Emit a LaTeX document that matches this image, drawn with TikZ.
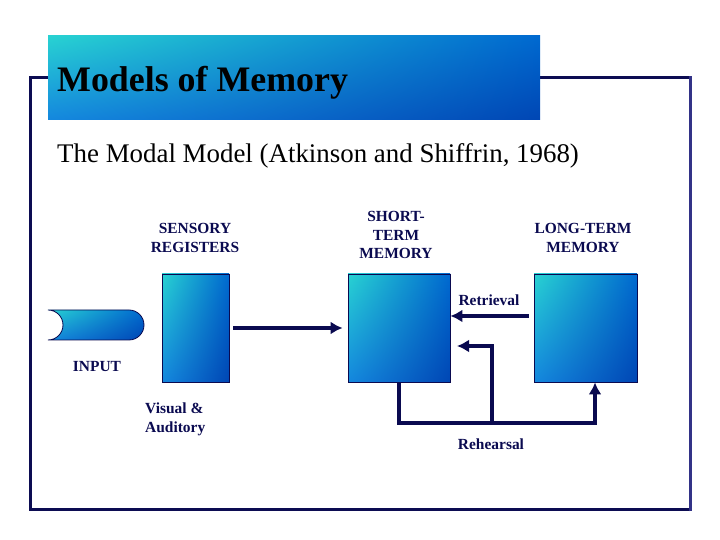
\documentclass[tikz,border=0pt]{standalone}
\usepackage{fontspec}
\setmainfont{Liberation Serif}
\usetikzlibrary{arrows.meta, shadings, calc}
\definecolor{navy}{RGB}{10,10,80}
\definecolor{framenavy}{RGB}{12,12,82}
\definecolor{framelight}{RGB}{50,50,135}
\definecolor{cyantop}{RGB}{40,210,210}
\definecolor{bluetop}{RGB}{0,105,208}
\definecolor{bluelow}{RGB}{20,135,222}
\definecolor{bluedeep}{RGB}{0,70,180}
\tikzset{
  memorybox/.style={draw=navy, line width=0.8bp, minimum height=108bp, inner sep=0pt,
    upper left=cyantop, upper right=bluetop, lower left=bluelow, lower right=bluedeep},
  boxlabel/.style={text=navy, font=\bfseries\fontsize{15.5}{19}\selectfont, align=center, inner sep=0pt, anchor=north},
  flow/.style={draw=navy, line width=4bp, -{Latex[length=12bp,width=13bp]}}
}
\begin{document}
\begin{tikzpicture}[x=1bp, y=1bp]
  \useasboundingbox (0,0) rectangle (720,540);
  % frame and banner
  \draw[framenavy, line width=3bp] (690,30) -- (30,30) -- (30,462) -- (690,462);
  \draw[framelight, line width=3bp] (690,28.5) -- (690,463.5);
  \shade[upper left=cyantop, upper right=bluetop, lower left=bluelow, lower right=bluedeep] (48,420) rectangle (540,504);
  \node[anchor=base west, inner sep=0pt, font=\bfseries\fontsize{36}{40}\selectfont] (title) at (57,448) {Models of Memory};
  \node[anchor=base west, inner sep=0pt, font=\fontsize{27}{32}\selectfont] (subtitle) at (57,377) {The Modal Model (Atkinson and Shiffrin, 1968)};

  % stores
  \node[memorybox, minimum width=67bp] (sensory) at (195.5,212) {};
  \node[memorybox, minimum width=102bp] (stm) at (399,212) {};
  \node[memorybox, minimum width=103bp] (ltm) at (585.5,212) {};
  \shade[draw=navy, line width=0.8bp, upper left=cyantop, upper right=bluetop, lower left=bluelow, lower right=bluedeep]
    (48,230) -- (129,230) arc[start angle=90, end angle=-90, radius=15] -- (48,200) arc[start angle=-90, end angle=90, radius=15] -- cycle;

  % labels
  \node[boxlabel] (senslabel) at (195,317.3) {SENSORY\\REGISTERS};
  \node[boxlabel] (stmlabel) at (396,329.3) {SHORT-\\TERM\\MEMORY};
  \node[boxlabel] (ltmlabel) at (583,317.3) {LONG-TERM\\MEMORY};
  \node[boxlabel] (retrieval) at (489,245.3) {Retrieval};
  \node[boxlabel] (input) at (97,179.3) {INPUT};
  \node[boxlabel, anchor=north west, align=left] (modes) at (145,137.3) {Visual \&\\Auditory};
  \node[boxlabel] (rehearsal) at (491,101.3) {Rehearsal};

  % connectors
  \coordinate (loopright) at (595,117);
  \coordinate (loopmid) at (492,117);
  \coordinate (backtip) at (457,194);
  \draw[flow, shorten <=4bp, shorten >=5bp] (sensory.east) -- (stm.west);
  \draw[flow, shorten <=5bp] ($(ltm.west)+(0,12)$) -- ($(stm.east)+(0,12)$);
  \draw[flow] (stm.south) |- (loopright) -- (loopright |- ltm.south);
  \draw[flow] (loopmid) |- (backtip);
\end{tikzpicture}
\end{document}
